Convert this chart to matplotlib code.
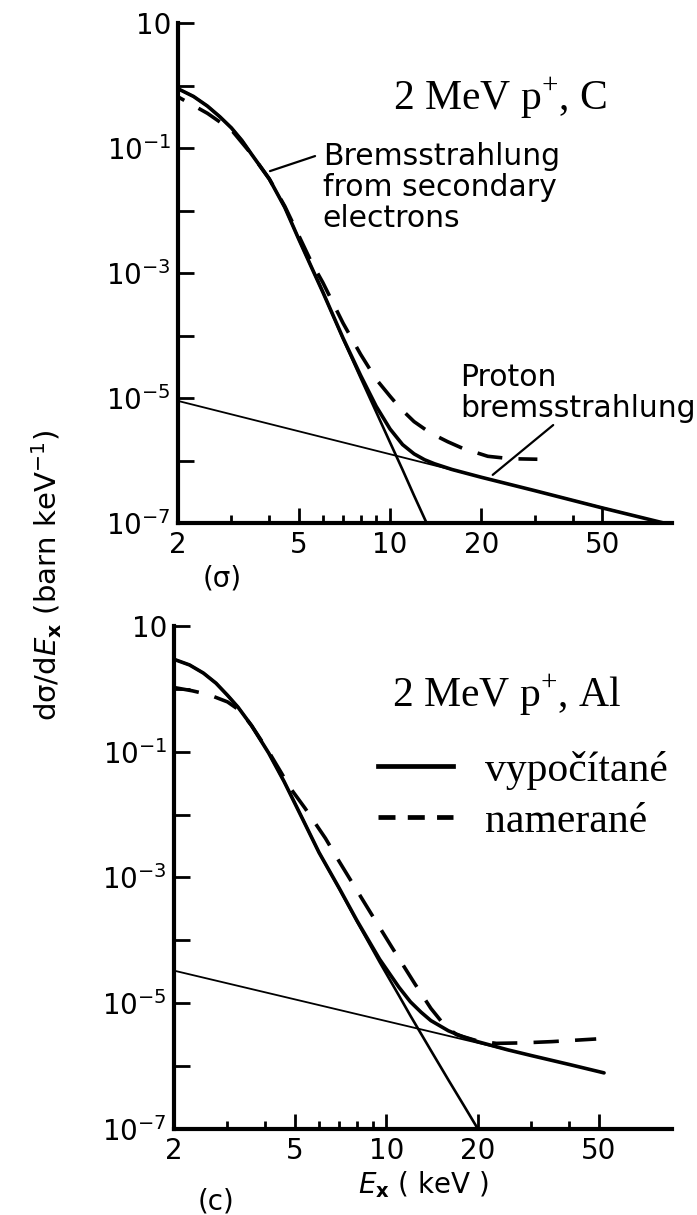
import matplotlib.pyplot as plt
from matplotlib.lines import Line2D
from matplotlib.ticker import FixedLocator, FuncFormatter, NullFormatter, NullLocator
import numpy as np

# 2 MeV protons on carbon, photon energy E_x in keV, cross sections in barn/keV
# bremsstrahlung from secondary electrons
e_seb_c = [2, 2.25, 2.5, 2.75, 3, 3.25, 3.5, 4, 4.5, 5, 5.5, 6, 7, 8, 9, 10,
           11, 12, 13.2]
seb_c = [0.89, 0.67, 0.47, 0.316, 0.21, 0.132, 0.079, 0.032, 0.0112, 3.5e-3,
         1.26e-3, 5.0e-4, 8.9e-5, 2.1e-5, 6.0e-6, 1.95e-6, 7.1e-7, 2.75e-7,
         1.0e-7]
# proton bremsstrahlung (straight line on log-log)
e_pb_c = [2, 80]
pb_c = [9.0e-6, 1.0e-7]
# total calculated spectrum
e_tot_c = [2, 2.25, 2.5, 2.75, 3, 3.25, 3.5, 4, 4.5, 5, 5.5, 6, 7, 8, 9, 10,
           11, 12, 13, 14, 16, 20, 30, 50, 80]
tot_c = [0.89, 0.67, 0.47, 0.316, 0.21, 0.132, 0.079, 0.032, 0.0112, 3.5e-3,
         1.26e-3, 5.0e-4, 9.1e-5, 2.3e-5, 7.4e-6, 3.2e-6, 1.8e-6, 1.28e-6,
         1.03e-6, 8.9e-7, 7.2e-7, 5.4e-7, 3.3e-7, 1.75e-7, 1.0e-7]
# measured spectrum
e_meas_c = [2, 2.5, 3, 3.5, 4, 4.5, 5, 5.5, 6, 7, 8, 9, 10, 10.8, 12, 13.6,
            15.5, 17.3, 21, 25, 30.6]
meas_c = [0.66, 0.36, 0.195, 0.079, 0.032, 0.0117, 4.0e-3, 1.51e-3, 7.1e-4,
          1.58e-4, 5.0e-5, 2.0e-5, 1.07e-5, 6.9e-6, 4.2e-6, 2.75e-6, 2.0e-6,
          1.58e-6, 1.17e-6, 1.07e-6, 1.05e-6]

# 2 MeV protons on aluminium
e_seb_al = [2, 2.25, 2.5, 2.75, 3, 3.25, 3.6, 4.1, 4.6, 5.3, 6, 7, 8, 9.5,
            11, 12, 14, 16, 18, 20]
seb_al = [2.95, 2.4, 1.78, 1.23, 0.79, 0.51, 0.26, 0.095, 0.034, 8.5e-3,
          2.5e-3, 6.6e-4, 2.0e-4, 4.5e-5, 1.32e-5, 6.3e-6, 1.78e-6, 6.0e-7,
          2.34e-7, 1.0e-7]
e_pb_al = [2, 52]
pb_al = [3.3e-5, 7.8e-7]
e_tot_al = [2, 2.25, 2.5, 2.75, 3, 3.25, 3.6, 4.1, 4.6, 5.3, 6, 7, 8, 9.5,
            11, 12, 13, 14, 16, 18, 20, 25, 30, 40, 52]
tot_al = [2.95, 2.4, 1.78, 1.23, 0.79, 0.51, 0.26, 0.095, 0.034, 8.5e-3,
          2.5e-3, 6.7e-4, 2.06e-4, 5.0e-5, 1.79e-5, 1.05e-5, 7.2e-6, 5.3e-6,
          3.64e-6, 2.88e-6, 2.44e-6, 1.82e-6, 1.47e-6, 1.06e-6, 7.8e-7]
e_meas_al = [2, 2.3, 2.6, 3, 3.3, 3.6, 4.1, 4.5, 4.8, 5.4, 6.3, 7, 8, 9, 10.4,
             12.4, 14, 15.5, 17, 20, 23, 28, 35, 49]
meas_al = [1.05, 0.93, 0.81, 0.62, 0.45, 0.26, 0.1, 0.047, 0.0275, 0.0126,
           4.2e-3, 1.78e-3, 6.2e-4, 2.45e-4, 7.9e-5, 2.04e-5, 8.3e-6, 4.5e-6,
           3.16e-6, 2.5e-6, 2.3e-6, 2.34e-6, 2.45e-6, 2.7e-6]

x_major = [2, 5, 10, 20, 50]
x_minor = [3, 4, 6, 7, 8, 9, 30, 40]
y_ticks = [1e-7, 1e-6, 1e-5, 1e-4, 1e-3, 1e-2, 1e-1, 1, 10]

plt.rcParams['font.family'] = 'DejaVu Sans'
plt.rcParams['mathtext.fontset'] = 'dejavusans'
serif = 'Liberation Serif'


def ylab(v, pos):
    n = int(round(np.log10(v)))
    if n == 1:
        return '10'
    if n % 2 == 0:
        return ''
    return r'$\mathdefault{10^{%d}}$' % n


def style_axes(ax, xmax):
    ax.set_xscale('log')
    ax.set_yscale('log')
    ax.set_xlim(2, xmax)
    ax.set_ylim(1e-7, 10)
    ax.spines['top'].set_visible(False)
    ax.spines['right'].set_visible(False)
    ax.spines['left'].set_linewidth(3)
    ax.spines['bottom'].set_linewidth(3)
    ax.xaxis.set_major_locator(FixedLocator(x_major))
    ax.xaxis.set_minor_locator(FixedLocator(x_minor))
    ax.xaxis.set_major_formatter(FuncFormatter(lambda v, p: '%g' % v))
    ax.xaxis.set_minor_formatter(NullFormatter())
    ax.yaxis.set_major_locator(FixedLocator(y_ticks))
    ax.yaxis.set_minor_locator(NullLocator())
    ax.yaxis.set_major_formatter(FuncFormatter(ylab))
    ax.tick_params(which='both', direction='in', width=2, labelsize=20)
    ax.tick_params(axis='y', length=11.5, pad=5)
    ax.tick_params(axis='x', which='major', length=11, pad=6)
    ax.tick_params(axis='x', which='minor', length=5.5)


def draw_curves(ax, e_seb, seb, e_pb, pb, e_tot, tot, e_meas, meas, dash_off=0):
    ax.plot(e_pb, pb, color='k', lw=1.3)
    ax.plot(e_seb, seb, color='k', lw=1.9)
    ax.plot(e_tot, tot, color='k', lw=2.6, solid_capstyle='round')
    ax.plot(e_meas, meas, color='k', lw=2.6, linestyle=(dash_off, (7, 4.5)))


fig = plt.figure(figsize=(6.97, 12.15), dpi=100)
ax1 = fig.add_axes([0.2554, 0.5695, 0.7087, 0.4115])
ax2 = fig.add_axes([0.2496, 0.0708, 0.7145, 0.4140])

# (a) carbon
style_axes(ax1, 85)
draw_curves(ax1, e_seb_c, seb_c, e_pb_c, pb_c, e_tot_c, tot_c, e_meas_c, meas_c,
            dash_off=5)
ax1.text(10.2, 0.4, r'2 MeV p$^{\mathdefault{+}}$, C', family=serif,
         fontsize=30, va='baseline')
# multi-line labels: y is the baseline of the last line
ax1.text(6.0, 5.4e-3, 'Bremsstrahlung\nfrom secondary\nelectrons',
         fontsize=21.5, linespacing=1.1, va='baseline')
ax1.text(17.0, 4.9e-6, 'Proton\nbremsstrahlung', fontsize=21.5,
         linespacing=1.1, va='baseline')
ax1.annotate('', xy=(4.02, 0.0428), xytext=(5.66, 0.0745),
             arrowprops=dict(arrowstyle='-', lw=1.6, shrinkA=0, shrinkB=0))
ax1.annotate('', xy=(21.8, 5.9e-7), xytext=(34.5, 3.7e-6),
             arrowprops=dict(arrowstyle='-', lw=1.6, shrinkA=0, shrinkB=0))
ax1.text(0.09, -0.11, '(σ)', transform=ax1.transAxes, fontsize=20,
         ha='center', va='center')

# (c) aluminium
style_axes(ax2, 87)
draw_curves(ax2, e_seb_al, seb_al, e_pb_al, pb_al, e_tot_al, tot_al,
            e_meas_al, meas_al)
ax2.text(10.43, 0.512, r'2 MeV p$^{\mathdefault{+}}$, Al', family=serif,
         fontsize=30, va='baseline')
handles = [Line2D([], [], color='k', lw=3.4),
           Line2D([], [], color='k', lw=3.4, dashes=(3.6, 2.6))]
ax2.legend(handles, ['vypočítané', 'namerané'], loc='center left',
           bbox_to_anchor=(0.41, 0.662), frameon=False,
           prop={'family': serif, 'size': 30}, handlelength=1.8,
           handletextpad=0.77, labelspacing=0.3, borderpad=0,
           borderaxespad=0)
ax2.text(0.084, -0.145, '(c)', transform=ax2.transAxes, fontsize=20,
         ha='center', va='center')
ax2.set_xlabel(r'$\mathit{E}_{\mathbf{x}}$ ( keV )', fontsize=20, labelpad=3)

fig.text(0.0674, 0.526, r'dσ/d$\mathit{E}_{\mathbf{x}}$ (barn keV$^{-1}$)',
         rotation=90, fontsize=21, ha='center', va='center')

fig.savefig('out.png', dpi=100)
